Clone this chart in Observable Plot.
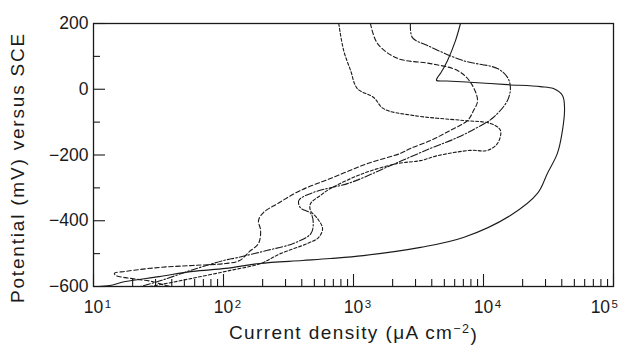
<!DOCTYPE html>
<html><head><meta charset="utf-8">
<script src="https://cdn.jsdelivr.net/npm/d3@7"></script>
<script src="https://cdn.jsdelivr.net/npm/@observablehq/plot@0.6"></script>
<style>body{margin:0;background:#fff}</style>
</head><body><div id="chart"></div>
<script>
// Tick values
const decades = [10, 100, 1000, 10000, 100000];
const decadeExponents = ["1", "2", "3", "4", "5"];
const minorMultipliers = [2, 3, 4, 5, 6, 7, 8, 9];
const majorY = [200, 0, -200, -400, -600];
const minorY = [100, -100, -300, -500];

// Curve 1: solid
const solidCurrent = [11, 13.3, 17.6, 32, 58, 104, 189, 405, 665, 1190, 3280, 7000, 16100, 26000, 31000, 37000, 40500, 42000, 40500, 34500, 27400, 15300, 9000, 5200, 4350, 4420, 4700, 5280, 6090, 6650];
const solidPotential = [-600, -597, -585, -570, -554, -545, -530, -521, -515, -506, -481, -451, -384, -317, -256, -195, -125, -56, -19, 2, 8, 14, 20, 25, 27, 35, 50, 87, 148, 200];

// Curve 2: long dash-dot
const longCurrent = [2740, 2840, 3710, 7000, 12800, 15300, 16100, 15300, 11900, 9000, 6300, 3900, 1930, 950, 490, 380, 390, 470, 490, 470, 345, 218, 128, 100, 56, 33, 23];
const longPotential = [200, 157, 133, 87, 63, 36, 5, -34, -86, -116, -147, -180, -232, -284, -314, -338, -360, -378, -408, -439, -469, -490, -512, -521, -551, -582, -600];

// Curve 3: medium dash
const mediumCurrent = [1350, 1530, 2180, 3910, 6310, 7940, 9000, 8380, 7530, 5570, 3910, 2740, 2300, 1280, 700, 390, 260, 203, 186, 193, 186, 158, 133, 104, 58, 32, 17.6, 14.5, 14.8, 17.6, 22.6, 28.4, 36, 39];
const mediumPotential = [200, 139, 94, 78, 57, 21, -34, -65, -95, -125, -156, -180, -195, -226, -268, -308, -348, -375, -399, -430, -469, -494, -521, -530, -536, -542, -554, -560, -566, -573, -579, -585, -597, -600];

// Curve 4: short dash
const shortCurrent = [770, 840, 950, 1070, 1430, 1700, 2900, 7000, 11300, 13500, 12800, 10700, 7900, 4430, 3280, 2180, 1190, 665, 557, 467, 467, 528, 578, 538, 443, 274, 193, 113, 56, 33, 27];
const shortPotential = [200, 118, 57, 2, -25, -59, -80, -95, -104, -125, -165, -186, -186, -202, -217, -226, -256, -302, -323, -348, -369, -393, -424, -451, -469, -500, -530, -551, -576, -594, -600];

const series = [
  {name: "solid", current: solidCurrent, potential: solidPotential, dash: null},
  {name: "long", current: longCurrent, potential: longPotential, dash: "7,2,1.5,2"},
  {name: "medium", current: mediumCurrent, potential: mediumPotential, dash: "4.5,2.5"},
  {name: "short", current: shortCurrent, potential: shortPotential, dash: "3,2"}
];
const rows = series.flatMap(s => s.current.map((c, i) => ({curve: s.name, current: c, potential: s.potential[i]})));
const minorX = decades.slice(0, -1).flatMap(d => minorMultipliers.map(m => d * m));

const ink = "#1a1a1a";
const xLabel = "Current density (μA cm^-2)";
const yLabel = "Potential (mV) versus SCE";
const chart = Plot.plot({
  width: 620, height: 352,
  marginTop: 23, marginBottom: 66, marginLeft: 93, marginRight: 7,
  style: {fontFamily: "'Liberation Sans', Arial, sans-serif", fontSize: "17.5px", color: ink, background: "#fff"},
  x: {type: "log", domain: [10, 100000]},
  y: {domain: [-600, 200]},
  marks: [
    Plot.frame({stroke: ink, strokeWidth: 1.3}),
    Plot.axisX({ticks: decades, tickSize: 0, tickPadding: 14, tickFormat: d => "10^" + decadeExponents[decades.indexOf(d)],
      label: xLabel, labelAnchor: "center", labelArrow: "none", labelOffset: 52}),
    Plot.axisX({ticks: decades, tickSize: -12, tickFormat: () => "", label: null, strokeWidth: 1.1}),
    Plot.axisX({ticks: minorX, tickSize: -7, tickFormat: () => "", label: null, strokeWidth: 1.1}),
    Plot.axisY({ticks: majorY, tickSize: 0, tickPadding: 5, tickFormat: d => d < 0 ? "−" + Math.abs(d) : String(d),
      label: yLabel, labelAnchor: "center", labelArrow: "none", labelOffset: 83}),
    Plot.axisY({ticks: majorY, tickSize: -12, tickFormat: () => "", label: null, strokeWidth: 1.1}),
    Plot.axisY({ticks: minorY, tickSize: -7, tickFormat: () => "", label: null, strokeWidth: 1.1}),
    ...series.map(s => Plot.line(rows.filter(r => r.curve === s.name), {
      x: "current", y: "potential", stroke: ink, strokeWidth: 1.1,
      strokeDasharray: s.dash, curve: "catmull-rom"
    }))
  ]
});
document.getElementById("chart").appendChild(chart);

const svgRect = chart.getBoundingClientRect();
d3.select(chart).selectAll("text").each(function() {
  const t = this.textContent;
  const sel = d3.select(this);
  if (t.startsWith("10^")) {
    sel.text("").attr("text-anchor", "start");
    const base = sel.append("tspan").attr("dx", -9.7).text("10");
    sel.append("tspan").attr("dx", "1.5").attr("dy", "-0.42em").attr("font-size", "11.5px").text(t.slice(3));
    const r = this.getBoundingClientRect();
    const over = r.right - svgRect.left - 618;
    if (over > 0) base.attr("dx", -9.7 - over);
  } else if (t === xLabel) {
    sel.text("").style("font-size", "19px").style("letter-spacing", "1.4px");
    sel.append("tspan").text("Current density (μA cm");
    sel.append("tspan").attr("dy", "-0.45em").attr("font-size", "12.5px").text("−2");
    sel.append("tspan").attr("dy", "0.45em").text(")");
  } else if (t === yLabel) {
    sel.style("font-size", "19px").style("letter-spacing", "1.8px");
    const tr = sel.attr("transform") || "";
    const m = tr.match(/translate\(([-\d.]+),\s*([-\d.]+)\)/);
    if (m) sel.attr("transform", tr.replace(m[0], `translate(${m[1]},167)`));
  }
});
</script>
</body></html>
